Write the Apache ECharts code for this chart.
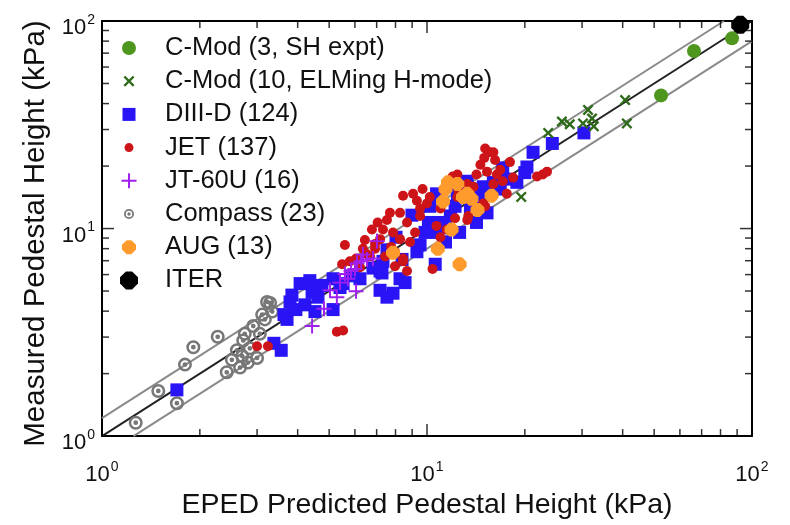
<!DOCTYPE html>
<html><head><meta charset="utf-8">
<script src="https://cdn.jsdelivr.net/npm/echarts@6/dist/echarts.min.js"></script>
<style>html,body{margin:0;padding:0;background:#fff}#c{width:790px;height:525px}</style>
</head><body><div id="c"></div>
<script>
// ---- tick values ----
const majorTickValues = [1, 10, 100];
const minorTickValues = [2,3,4,5,6,7,8,9,20,30,40,50,60,70,80,90];
const axisMin = 1, axisMax = 100;

// ---- legend labels ----
const seriesNames = ['C-Mod (3, SH expt)', 'C-Mod (10, ELMing H-mode)', 'DIII-D (124)', 'JET (137)', 'JT-60U (16)', 'Compass (23)', 'AUG (13)', 'ITER'];

// ---- reference lines [EPED, measured] ----
const lineEqual = [[1, 1], [100, 100]];
const lineUpper = [[1, 1.22], [82, 100]];
const lineLower = [[1.25, 1], [100, 80]];

// ---- data [EPED predicted, measured] (kPa) ----
const cmodSH = [[66.3,71.7],[86.8,82.5],[52.5,43.8]];
const cmodELM = [[40.7,41.6],[41.2,32.1],[31.3,37.3],[32.2,33.9],[32.6,31.1],[26.0,32.8],[27.5,31.8],[30.2,32.1],[23.6,28.9],[19.5,14.2]];
const diiid = [[1.70,1.67],[3.38,2.80],[3.56,2.59],[3.71,3.65],[3.63,3.85],[3.79,4.43],[3.95,4.07],[3.84,4.78],[4.36,5.61],[4.43,4.93],
  [4.62,4.67],[4.52,3.98],[5.14,5.73],[5.40,5.20],[5.14,4.07],[5.52,5.43],[6.22,5.73],[7.27,6.11],[7.32,6.95],[7.17,5.04],
  [7.86,4.88],[7.53,4.67],[4.75,5.32],[4.07,5.43],[4.21,4.29],[6.82,6.45],[7.53,7.90],[7.17,6.24],[8.26,5.73],[10.6,6.73],
  [9.31,7.73],[9.52,8.34],[10.7,9.58],[11.0,10.7],[11.8,11.5],[10.2,12.8],[10.7,14.7],[13.3,16.9],[14.6,13.9],[15.3,11.9],
  [14.2,10.7],[16.0,16.7],[17.1,19.6],[18.9,16.7],[20.0,18.6],[20.3,19.8],[21.2,23.3],[24.3,25.7],[30.4,28.9],[8.99,11.6],
  [9.86,9.58],[12.2,12.8],[13.6,12.5],[12.6,9.58],[11.4,8.61],[8.56,5.49],[8.03,9.08],[8.38,7.10],[17.4,17.3],[15.6,14.7],
  [13.6,15.5],[12.4,14.7],[5.90,5.92],[10.1,10.7],[11.4,10.1],[16.8,15.5],[14.9,15.9]];
const jet = [[3.00,2.71],[3.24,2.71],[5.28,3.18],[5.52,3.23],[5.59,8.34],[5.48,6.73],[10.4,6.38],[22.7,18.2],[23.4,18.8],[21.8,17.8],
  [6.35,7.99],[6.92,8.43],[7.53,11.0],[7.86,9.58],[8.26,8.89],[8.68,10.7],[9.06,14.7],[8.44,14.4],[9.31,13.6],[10.0,13.2],
  [10.2,14.2],[9.52,11.5],[7.32,9.89],[7.69,11.9],[8.26,11.9],[7.17,8.89],[6.92,7.99],[7.97,7.73],[8.44,7.17],[8.87,8.61],
  [8.68,6.24],[10.7,10.3],[11.5,9.89],[12.4,18.2],[12.5,15.2],[13.4,11.5],[13.3,11.0],[14.9,13.2],[14.6,20.3],[15.6,23.3],
  [15.0,21.9],[15.3,18.8],[14.2,18.2],[16.4,18.2],[18.0,20.9],[18.4,17.6],[17.1,16.9],[17.6,14.7],[16.0,16.4],[15.1,12.8],
  [13.9,15.9],[13.3,16.4],[12.4,14.2],[16.0,23.3],[12.5,16.4],[6.77,9.89],[6.05,7.17],[6.49,7.57],[5.79,6.95],[6.22,6.51],
  [6.68,7.33],[7.43,7.33],[7.97,6.58],[9.19,9.58],[9.52,12.5],[11.0,12.5],[11.0,9.08],[15.1,24.3],[16.2,21.4],[16.8,19.2],
  [12.2,11.2],[7.05,10.7],[6.44,8.80],[7.76,8.16],[9.69,15.5],[12.0,17.8],[8.44,6.95]];
const jt60u = [[4.43,3.39],[4.82,4.11],[5.28,4.67],[6.05,4.99],[5.84,6.24],[5.59,6.04],[6.09,6.80],[6.54,7.10],[6.82,7.17],[6.35,7.49],
  [7.02,8.70],[5.40,5.49],[6.00,6.38],[5.71,5.73],[6.27,6.95],[5.03,5.04]];
const compass = [[3.22,4.43],[3.34,3.98],[3.11,3.85],[2.92,3.39],[2.75,3.11],[2.72,2.89],[2.60,2.59],[2.70,2.43],[2.81,2.26],[3.00,2.38],
  [2.42,2.03],[2.27,3.01],[1.91,2.68],[1.80,2.21],[1.49,1.65],[1.70,1.44],[1.27,1.16],[3.17,3.65],[2.85,2.65],[2.51,2.33],
  [3.06,3.11],[3.29,4.38],[2.66,2.14]];
const aug = [[11.6,16.7],[12.9,14.2],[11.2,13.5],[14.3,12.3],[15.8,14.4],[11.9,9.89],[10.8,7.99],[7.86,7.65],[12.6,6.73],[13.3,14.7],
  [12.4,16.4],[13.7,13.9],[11.4,15.5]];
const iter = [[92,95.8]];

// ---- marker shapes (unit boxes) ----
const SHAPES = {
  circle: ['M5,0 A5,5 0 1,1 5,10 A5,5 0 1,1 5,0 Z', 10],
  cross: ['M0,1.5 L1.5,0 L5,3.5 L8.5,0 L10,1.5 L6.5,5 L10,8.5 L8.5,10 L5,6.5 L1.5,10 L0,8.5 L3.5,5 Z', 10],
  square: ['M0,0 H10 V10 H0 Z', 10],
  plus: ['M4.35,0 H5.65 V4.35 H10 V5.65 H5.65 V10 H4.35 V5.65 H0 V4.35 H4.35 Z', 10],
  ring: ['M10,0 A10,10 0 1,1 10,20 A10,10 0 1,1 10,0 Z M10,3.6 A6.4,6.4 0 1,0 10,16.4 A6.4,6.4 0 1,0 10,3.6 Z M10,6.6 A3.4,3.4 0 1,1 10,13.4 A3.4,3.4 0 1,1 10,6.6 Z', 20],
  oct: ['M3.3,0 H6.7 L10,3.3 V6.7 L6.7,10 H3.3 L0,6.7 V3.3 Z', 10]
};
function sym(name) { return 'path://' + SHAPES[name][0]; }
function legendSym(name, size) {
  const ext = SHAPES[name][1];
  const p = (18 / size * ext - ext) / 2;
  const a = (-p).toFixed(2), b = (ext + p).toFixed(2);
  return 'path://' + SHAPES[name][0] + ` M${a},${a} L${a},${a} M${b},${b} L${b},${b}`;
}

const FONT = 'Liberation Sans';
const chart = echarts.init(document.getElementById('c'), null, {renderer: 'canvas'});

function expLabel(v) {
  const e = Math.round(Math.log10(v));
  return '{b|10}{s|' + e + '}';
}
const richLab = {
  b: {fontSize: 22, fontFamily: FONT, color: '#111', verticalAlign: 'bottom', lineHeight: 26},
  s: {fontSize: 14, fontFamily: FONT, color: '#111', verticalAlign: 'top', lineHeight: 26, padding: [0, 0, 0, 1]}
};

function mainAxis(dim, pos, withLabel) {
  const label = {show: withLabel, formatter: expLabel, rich: richLab, margin: dim === 'x' ? 24 : 7, color: '#111'};
  if (dim === 'x') { label.alignMinLabel = 'center'; label.alignMaxLabel = 'center'; }
  else {
    label.verticalAlign = 'middle';
    label.verticalAlignMinLabel = 'middle'; label.verticalAlignMaxLabel = 'middle';
    label.padding = [10, 0, 0, 0];
  }
  const ax = {
    type: 'log', logBase: 10, min: axisMin, max: axisMax, position: pos,
    axisLine: {show: true, onZero: false, lineStyle: {color: '#000', width: 2}},
    axisTick: {show: false},
    minorTick: {show: false},
    splitLine: {show: false},
    axisLabel: label,
    silent: true
  };
  if (withLabel) {
    ax.nameLocation = 'middle';
    if (dim === 'x') {
      ax.name = 'EPED Predicted Pedestal Height (kPa)'; ax.nameGap = 40;
      ax.nameTextStyle = {fontSize: 28.5, fontFamily: FONT, color: '#111'};
    } else {
      ax.name = 'Measured Pedestal Height (kPa)'; ax.nameGap = 32;
      ax.nameTextStyle = {fontSize: 29.5, fontFamily: FONT, color: '#111', padding: [0, 10, 0, 0]};
    }
  }
  return ax;
}

// tick marks drawn as thin marks placed through the axis scales
function tickSeries(points, size, offset) {
  return {
    type: 'scatter', data: points, symbol: 'rect', symbolSize: size, symbolOffset: offset,
    itemStyle: {color: '#000'}, silent: true, clip: false, z: 5, legendHoverLink: false
  };
}
const MAJ = 12, MIN = 7, TW = 1.5;
const tickSeriesList = [
  tickSeries(majorTickValues.map(v => [v, axisMin]), [TW, MAJ], [0, -MAJ / 2]),
  tickSeries(minorTickValues.map(v => [v, axisMin]), [TW, MIN], [0, -MIN / 2]),
  tickSeries(majorTickValues.map(v => [v, axisMax]), [TW, MAJ], [0, MAJ / 2]),
  tickSeries(minorTickValues.map(v => [v, axisMax]), [TW, MIN], [0, MIN / 2]),
  tickSeries(majorTickValues.map(v => [axisMin, v]), [MAJ, TW], [MAJ / 2, 0]),
  tickSeries(minorTickValues.map(v => [axisMin, v]), [MIN, TW], [MIN / 2, 0]),
  tickSeries(majorTickValues.map(v => [axisMax, v]), [MAJ, TW], [-MAJ / 2, 0]),
  tickSeries(minorTickValues.map(v => [axisMax, v]), [MIN, TW], [-MIN / 2, 0])
];

const legendSizes = [14, 11, 13, 9, 15, 10, 14, 18];
const legendShapes = ['circle', 'cross', 'square', 'circle', 'plus', 'ring', 'oct', 'oct'];
const colors = ['#4e961e', '#2d6a19', '#2814f5', '#cd1419', '#a01ef0', '#777777', '#ff9b2d', '#000000'];

const scatterDefs = [
  [5, compass, 'ring', 14],
  [2, diiid, 'square', 13],
  [3, jet, 'circle', 10],
  [4, jt60u, 'plus', 15],
  [6, aug, 'oct', 14],
  [1, cmodELM, 'cross', 11],
  [0, cmodSH, 'circle', 14],
  [7, iter, 'oct', 18]
];

const series = [
  {type: 'line', data: lineUpper, symbol: 'none', silent: true, lineStyle: {color: '#8a8a8a', width: 2}, z: 1},
  {type: 'line', data: lineLower, symbol: 'none', silent: true, lineStyle: {color: '#8a8a8a', width: 2}, z: 1},
  {type: 'line', data: lineEqual, symbol: 'none', silent: true, lineStyle: {color: '#222', width: 2}, z: 1}
];
scatterDefs.forEach(([idx, data, shape, size]) => {
  series.push({
    type: 'scatter', name: seriesNames[idx], data: data,
    symbol: sym(shape), symbolSize: size,
    itemStyle: {color: colors[idx], opacity: 1},
    z: 2
  });
});
tickSeriesList.forEach(s => series.push(s));

chart.setOption({
  animation: false,
  backgroundColor: '#fff',
  textStyle: {fontFamily: FONT},
  grid: {left: 102, right: 38, top: 21, bottom: 74},
  xAxis: [mainAxis('x', 'bottom', true), mainAxis('x', 'top', false)],
  yAxis: [mainAxis('y', 'left', true), mainAxis('y', 'right', false)],
  legend: {
    orient: 'vertical', left: 115, top: 30,
    itemWidth: 62, itemHeight: 18, itemGap: 7.2,
    symbolKeepAspect: true,
    textStyle: {fontSize: 25.5, fontFamily: FONT, color: '#111'},
    data: seriesNames.map((n, i) => ({
      name: n, icon: legendSym(legendShapes[i], legendSizes[i]),
      itemStyle: {color: colors[i], borderWidth: 0}
    })),
    selectedMode: false
  },
  series: series
});
</script></body></html>
